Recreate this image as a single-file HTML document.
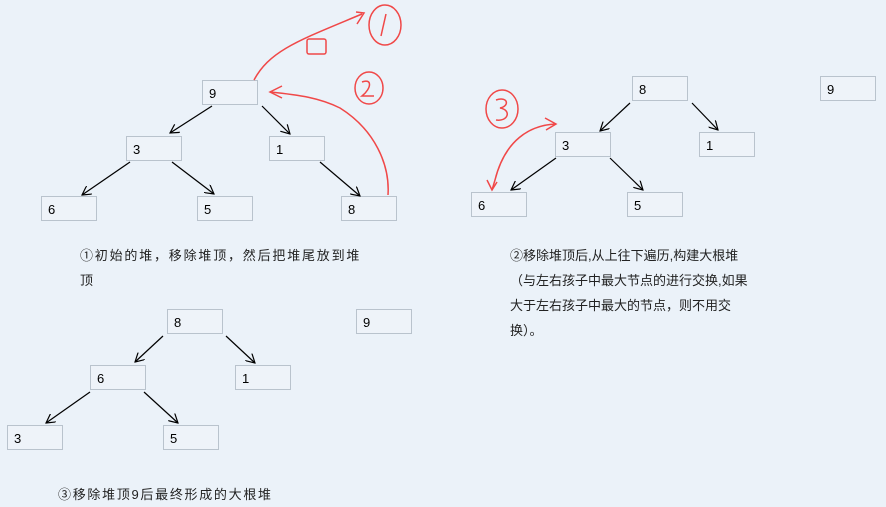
<!DOCTYPE html>
<html><head><meta charset="utf-8"><style>
body{margin:0;width:886px;height:506px;background:#ebf2f9;overflow:hidden;font-family:"Liberation Sans","Noto Sans CJK SC",sans-serif;}
.b{position:absolute;width:56px;height:25px;border:1px solid #b9c3cd;background:#eef3f9;font-size:13px;line-height:25px;box-sizing:border-box;padding-left:6px;color:#000;}
.t{position:absolute;font-size:13px;color:#222;line-height:25px;}
svg{position:absolute;left:0;top:0}
</style></head><body>
<div class="b" style="left:202px;top:80px">9</div>
<div class="b" style="left:126px;top:136px">3</div>
<div class="b" style="left:269px;top:136px">1</div>
<div class="b" style="left:41px;top:196px">6</div>
<div class="b" style="left:197px;top:196px">5</div>
<div class="b" style="left:341px;top:196px">8</div>

<div class="b" style="left:632px;top:76px">8</div>
<div class="b" style="left:820px;top:76px">9</div>
<div class="b" style="left:555px;top:132px">3</div>
<div class="b" style="left:699px;top:132px">1</div>
<div class="b" style="left:471px;top:192px">6</div>
<div class="b" style="left:627px;top:192px">5</div>

<div class="b" style="left:167px;top:309px">8</div>
<div class="b" style="left:356px;top:309px">9</div>
<div class="b" style="left:90px;top:365px">6</div>
<div class="b" style="left:235px;top:365px">1</div>
<div class="b" style="left:7px;top:425px">3</div>
<div class="b" style="left:163px;top:425px">5</div>

<div class="t" style="left:80px;top:243px;width:300px;letter-spacing:1.8px">①初始的堆，移除堆顶，然后把堆尾放到堆<br>顶</div>
<div class="t" style="left:510px;top:243px;width:270px">②移除堆顶后,从上往下遍历,构建大根堆<br>（与左右孩子中最大节点的进行交换,如果<br>大于左右孩子中最大的节点，则不用交<br>换）。</div>
<div class="t" style="left:58px;top:482px;letter-spacing:1.7px">③移除堆顶9后最终形成的大根堆</div>

<svg width="886" height="506" viewBox="0 0 886 506">
<defs><marker id="a" markerWidth="10" markerHeight="10" refX="9" refY="5" orient="auto" markerUnits="userSpaceOnUse"><path d="M0,0 L9,5 L0,10" fill="none" stroke="#000" stroke-width="1.2"/></marker></defs>
<g stroke="#000" stroke-width="1.2" marker-end="url(#a)">
<line x1="212" y1="106" x2="170" y2="133"/><line x1="262" y1="106" x2="290" y2="134"/>
<line x1="130" y1="162" x2="82" y2="195"/><line x1="172" y1="162" x2="214" y2="194"/>
<line x1="320" y1="162" x2="360" y2="196"/>
<line x1="630" y1="103" x2="600" y2="131"/><line x1="692" y1="103" x2="718" y2="130"/>
<line x1="556" y1="158" x2="511" y2="190"/><line x1="610" y1="158" x2="643" y2="190"/>
<line x1="163" y1="336" x2="135" y2="362"/><line x1="226" y1="336" x2="255" y2="363"/>
<line x1="90" y1="392" x2="46" y2="423"/><line x1="144" y1="392" x2="178" y2="423"/>
</g>
<g stroke="#f04848" stroke-width="1.5" fill="none">
<path d="M254,80 C270,50 300,40 362,14"/><path d="M356,12 L364,13 L357,24"/>
<ellipse cx="385" cy="25" rx="16" ry="20"/><path d="M386,14 L381,36"/>
<rect x="307" y="39" width="19" height="15" rx="2"/>
<path d="M388,195 C390,165 375,130 340,108 C320,98 300,95 270,92"/><path d="M282,86 L270,92 L282,98"/>
<ellipse cx="369" cy="88" rx="14" ry="16"/><path d="M362,82 C372,78 372,88 362,96 L374,96"/>
<path d="M556,124 C530,125 505,140 495,180 L492,190"/><path d="M545,118 L556,124 L546,130"/><path d="M487,180 L492,190 L497,182"/>
<ellipse cx="502" cy="109" rx="16" ry="19"/><path d="M496,100 C508,96 510,106 500,108 C512,110 508,122 496,120"/>
</g>
</svg>
</body></html>
